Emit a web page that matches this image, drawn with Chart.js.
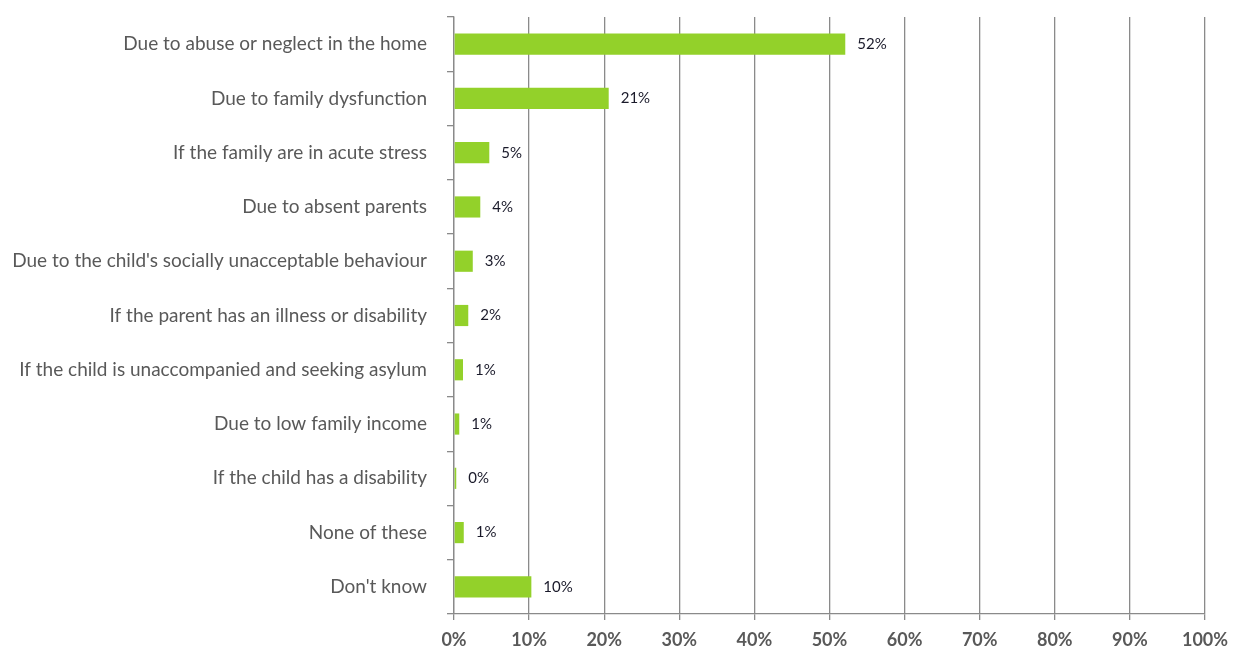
<!DOCTYPE html>
<html>
<head>
<meta charset="utf-8">
<script src="https://cdn.jsdelivr.net/npm/chart.js@4"></script>
<style>
  html, body { margin: 0; padding: 0; background: #fff; }
  #wrap { width: 1233px; height: 648px; }
</style>
</head>
<body>
<div id="wrap"><canvas id="reasons"></canvas></div>
<script>
const categories = [
  'Due to abuse or neglect in the home',
  'Due to family dysfunction',
  'If the family are in acute stress',
  'Due to absent parents',
  "Due to the child's socially unacceptable behaviour",
  'If the parent has an illness or disability',
  'If the child is unaccompanied and seeking asylum',
  'Due to low family income',
  'If the child has a disability',
  'None of these',
  "Don't know"
];
const percents = [52.1, 20.6, 4.7, 3.5, 2.5, 1.9, 1.2, 0.7, 0.3, 1.3, 10.3];
const xTicks = [0, 10, 20, 30, 40, 50, 60, 70, 80, 90, 100];

const axisGrey = '#8a8a8a';

// value labels to the right of each bar
const barLabels = {
  id: 'barLabels',
  afterDatasetsDraw(chart) {
    const c = chart.ctx;
    const meta = chart.getDatasetMeta(0);
    c.save();
    c.font = '15px Lato';
    c.fillStyle = '#1a1a2a';
    c.textAlign = 'left';
    c.textBaseline = 'middle';
    meta.data.forEach((bar, i) => {
      c.fillText(Math.round(percents[i]) + '%', bar.x + 12, bar.y);
    });
    c.restore();
  }
};

const ctx = document.getElementById('reasons');
const chart = new Chart(ctx, {
  type: 'bar',
  data: {
    labels: categories,
    datasets: [{
      data: percents,
      backgroundColor: '#93d12a',
      borderWidth: 0,
      barPercentage: 0.78,
      categoryPercentage: 0.5
    }]
  },
  options: {
    indexAxis: 'y',
    responsive: true,
    maintainAspectRatio: false,
    animation: false,
    layout: { padding: { top: 17, right: 28, left: 0, bottom: 0 } },
    plugins: {
      legend: { display: false },
      tooltip: { enabled: false }
    },
    scales: {
      x: {
        min: 0,
        max: 100,
        afterBuildTicks: (axis) => { axis.ticks = xTicks.map(v => ({ value: v })); },
        afterFit: (axis) => {
          axis.height = 34;
          axis.paddingLeft = 0;
          axis.paddingRight = 0;
        },
        grid: { color: axisGrey, lineWidth: 1.3, tickLength: 6 },
        border: { color: axisGrey, width: 1.3 },
        ticks: {
          callback: (v) => v + '%',
          font: { family: 'Lato', size: 18, weight: 'bold' },
          color: '#595959',
          padding: 9,
          maxRotation: 0
        }
      },
      y: {
        afterFit: (axis) => {
          axis.width = 454;
          axis.paddingTop = 0;
          axis.paddingBottom = 0;
        },
        grid: { drawOnChartArea: false, color: axisGrey, lineWidth: 1.3, tickLength: 7 },
        border: { color: axisGrey, width: 1.3 },
        ticks: {
          font: { family: 'Lato', size: 19 },
          color: '#595959',
          padding: 20,
          autoSkip: false
        }
      }
    }
  },
  plugins: [barLabels]
});
</script>
</body>
</html>
